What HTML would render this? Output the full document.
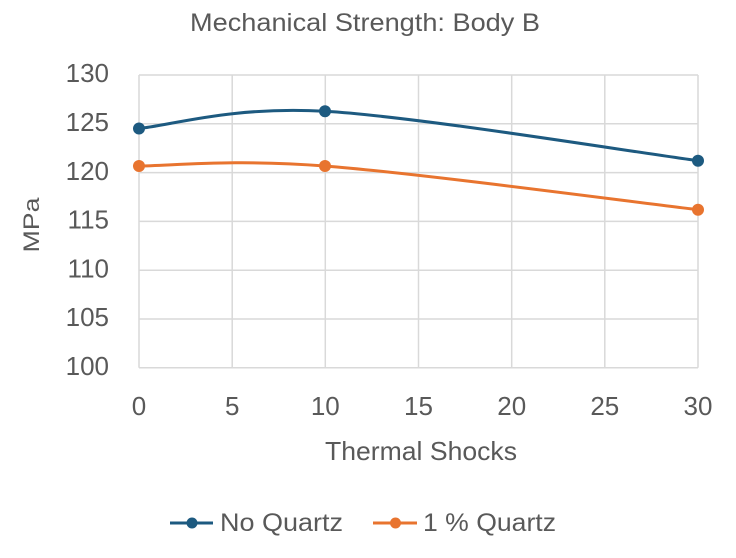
<!DOCTYPE html>
<html>
<head>
<meta charset="utf-8">
<style>
html,body{margin:0;padding:0;background:#fff;}
svg{display:block;}
text{font-family:"Liberation Sans",sans-serif;fill:#595959;}
</style>
</head>
<body>
<svg width="736" height="558" viewBox="0 0 736 558" xmlns="http://www.w3.org/2000/svg">
<rect width="736" height="558" fill="#fff"/>
<text x="365" y="31" font-size="25" text-anchor="middle" textLength="350" lengthAdjust="spacingAndGlyphs">Mechanical Strength: Body B</text>
<g stroke="#d9d9d9" stroke-width="1.5" fill="none">
<line x1="139" y1="75" x2="698" y2="75"/>
<line x1="139" y1="123.8" x2="698" y2="123.8"/>
<line x1="139" y1="172.6" x2="698" y2="172.6"/>
<line x1="139" y1="221.4" x2="698" y2="221.4"/>
<line x1="139" y1="270.2" x2="698" y2="270.2"/>
<line x1="139" y1="319" x2="698" y2="319"/>
<line x1="139" y1="367.8" x2="698" y2="367.8"/>
<line x1="139" y1="75" x2="139" y2="367.8"/>
<line x1="232.2" y1="75" x2="232.2" y2="367.8"/>
<line x1="325.3" y1="75" x2="325.3" y2="367.8"/>
<line x1="418.5" y1="75" x2="418.5" y2="367.8"/>
<line x1="511.7" y1="75" x2="511.7" y2="367.8"/>
<line x1="604.8" y1="75" x2="604.8" y2="367.8"/>
<line x1="698" y1="75" x2="698" y2="367.8"/>
</g>
<g font-size="26" text-anchor="end">
<text x="109" y="82">130</text>
<text x="109" y="131">125</text>
<text x="109" y="180">120</text>
<text x="109" y="228.5">115</text>
<text x="109" y="277.5">110</text>
<text x="109" y="326">105</text>
<text x="109" y="375">100</text>
</g>
<g font-size="26" text-anchor="middle">
<text x="139" y="415">0</text>
<text x="232.2" y="415">5</text>
<text x="325.3" y="415">10</text>
<text x="418.5" y="415">15</text>
<text x="511.7" y="415">20</text>
<text x="604.8" y="415">25</text>
<text x="698" y="415">30</text>
</g>
<text x="421" y="460" font-size="26" text-anchor="middle" textLength="192" lengthAdjust="spacingAndGlyphs">Thermal Shocks</text>
<text transform="translate(39,225) rotate(-90)" font-size="22" text-anchor="middle" textLength="55" lengthAdjust="spacingAndGlyphs">MPa</text>
<path d="M139,128.5 C170,125.6 231.8,105.9 325,111.3 C418.2,116.7 635.8,152.5 698,160.7" fill="none" stroke="#1d5a80" stroke-width="3"/>
<path d="M139,166 C170,166 231.8,158.7 325,166 C418.2,173.3 635.8,202.4 698,209.7" fill="none" stroke="#e8742f" stroke-width="3"/>
<g fill="#1d5a80">
<circle cx="139" cy="128.5" r="6"/>
<circle cx="325" cy="111.3" r="6"/>
<circle cx="698" cy="160.7" r="6"/>
</g>
<g fill="#e8742f">
<circle cx="139" cy="166" r="6"/>
<circle cx="325" cy="166" r="6"/>
<circle cx="698" cy="209.7" r="6"/>
</g>
<line x1="170" y1="523" x2="213" y2="523" stroke="#1d5a80" stroke-width="3"/>
<circle cx="192" cy="523" r="5.5" fill="#1d5a80"/>
<text x="220" y="531" font-size="25" textLength="123" lengthAdjust="spacingAndGlyphs">No Quartz</text>
<line x1="373" y1="523" x2="417" y2="523" stroke="#e8742f" stroke-width="3"/>
<circle cx="395.5" cy="523" r="5.5" fill="#e8742f"/>
<text x="423" y="531" font-size="25" textLength="133" lengthAdjust="spacingAndGlyphs">1 % Quartz</text>
</svg>
</body>
</html>
